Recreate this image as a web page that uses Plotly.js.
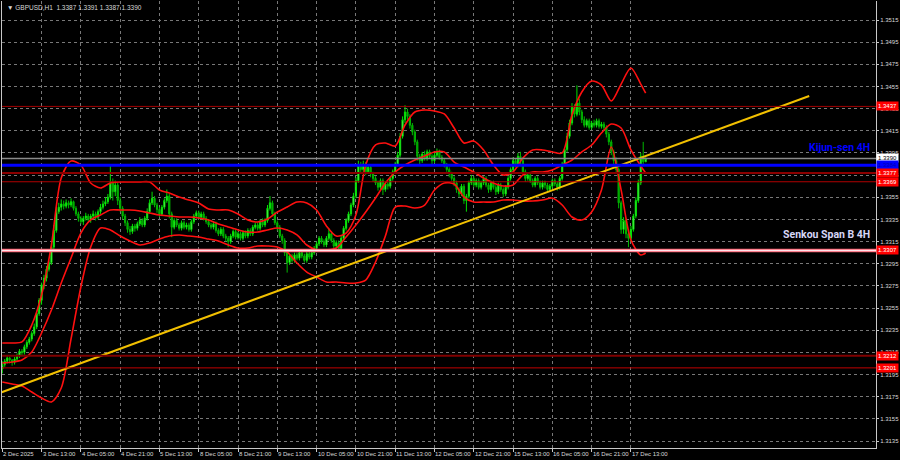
<!DOCTYPE html>
<html>
<head>
<meta charset="utf-8">
<script src="https://cdn.plot.ly/plotly-3.0.1.min.js"></script>
<style>html,body{margin:0;padding:0;background:#000;}#chart{width:900px;height:460px;}</style>
</head>
<body>
<div id="chart"></div>
<script>
// ---- data (GBPUSD H1, 2 Dec 21:00 .. 17 Dec 19:00) ----
const openP = [1.3200,1.3204,1.3207,1.3210,1.3208,1.3206,1.3209,1.3212,1.3216,1.3215,
1.3220,1.3224,1.3227,1.3232,1.3238,1.3250,1.3262,1.3276,1.3282,1.3290,
1.3296,1.3310,1.3325,1.3342,1.3346,1.3349,1.3347,1.3350,1.3348,1.3351,
1.3345,1.3340,1.3336,1.3333,1.3336,1.3338,1.3335,1.3338,1.3340,1.3337,
1.3342,1.3346,1.3349,1.3351,1.3355,1.3368,1.3360,1.3366,1.3352,1.3345,
1.3338,1.3332,1.3326,1.3324,1.3329,1.3327,1.3331,1.3334,1.3330,1.3336,
1.3342,1.3350,1.3354,1.3348,1.3344,1.3340,1.3346,1.3352,1.3356,1.3340,
1.3328,1.3334,1.3330,1.3327,1.3332,1.3328,1.3330,1.3326,1.3333,1.3338,
1.3341,1.3337,1.3340,1.3336,1.3333,1.3330,1.3328,1.3331,1.3325,1.3322,
1.3326,1.3320,1.3318,1.3315,1.3320,1.3324,1.3319,1.3322,1.3318,1.3323,
1.3320,1.3325,1.3322,1.3328,1.3330,1.3327,1.3333,1.3330,1.3334,1.3345,
1.3350,1.3340,1.3332,1.3328,1.3320,1.3316,1.3305,1.3296,1.3302,1.3298,
1.3303,1.3300,1.3305,1.3302,1.3298,1.3304,1.3301,1.3305,1.3309,1.3313,
1.3318,1.3315,1.3312,1.3318,1.3322,1.3316,1.3311,1.3314,1.3309,1.3318,
1.3327,1.3334,1.3340,1.3348,1.3356,1.3370,1.3384,1.3380,1.3385,1.3378,
1.3382,1.3376,1.3372,1.3368,1.3364,1.3370,1.3362,1.3367,1.3365,1.3372,
1.3378,1.3385,1.3393,1.3410,1.3425,1.3432,1.3428,1.3420,1.3414,1.3405,
1.3392,1.3388,1.3394,1.3390,1.3396,1.3392,1.3388,1.3393,1.3396,1.3391,
1.3388,1.3384,1.3380,1.3376,1.3372,1.3368,1.3362,1.3358,1.3365,1.3352,
1.3356,1.3368,1.3372,1.3366,1.3370,1.3364,1.3368,1.3372,1.3366,1.3362,
1.3368,1.3364,1.3360,1.3366,1.3362,1.3358,1.3364,1.3372,1.3380,1.3388,
1.3384,1.3392,1.3388,1.3378,1.3372,1.3375,1.3370,1.3366,1.3372,1.3368,
1.3364,1.3368,1.3366,1.3362,1.3365,1.3370,1.3367,1.3364,1.3372,1.3385,
1.3398,1.3410,1.3422,1.3436,1.3430,1.3440,1.3432,1.3425,1.3420,1.3424,
1.3418,1.3422,1.3420,1.3424,1.3419,1.3421,1.3418,1.3412,1.3405,1.3396,
1.3388,1.3380,1.3350,1.3326,1.3334,1.3322,1.3318,1.3326,1.3338,1.3352,
1.3368,1.3392,1.3387];

const closeP = [1.3204,1.3207,1.3210,1.3208,1.3206,1.3209,1.3212,1.3216,1.3215,1.3220,
1.3224,1.3227,1.3232,1.3238,1.3250,1.3262,1.3276,1.3282,1.3290,1.3296,
1.3310,1.3325,1.3342,1.3346,1.3349,1.3347,1.3350,1.3348,1.3351,1.3345,
1.3340,1.3336,1.3333,1.3336,1.3338,1.3335,1.3338,1.3340,1.3337,1.3342,
1.3346,1.3349,1.3351,1.3355,1.3368,1.3360,1.3366,1.3352,1.3345,1.3338,
1.3332,1.3326,1.3324,1.3329,1.3327,1.3331,1.3334,1.3330,1.3336,1.3342,
1.3350,1.3354,1.3348,1.3344,1.3340,1.3346,1.3352,1.3356,1.3340,1.3328,
1.3334,1.3330,1.3327,1.3332,1.3328,1.3330,1.3326,1.3333,1.3338,1.3341,
1.3337,1.3340,1.3336,1.3333,1.3330,1.3328,1.3331,1.3325,1.3322,1.3326,
1.3320,1.3318,1.3315,1.3320,1.3324,1.3319,1.3322,1.3318,1.3323,1.3320,
1.3325,1.3322,1.3328,1.3330,1.3327,1.3333,1.3330,1.3334,1.3345,1.3350,
1.3340,1.3332,1.3328,1.3320,1.3316,1.3305,1.3296,1.3302,1.3298,1.3303,
1.3300,1.3305,1.3302,1.3298,1.3304,1.3301,1.3305,1.3309,1.3313,1.3318,
1.3315,1.3312,1.3318,1.3322,1.3316,1.3311,1.3314,1.3309,1.3318,1.3327,
1.3334,1.3340,1.3348,1.3356,1.3370,1.3384,1.3380,1.3385,1.3378,1.3382,
1.3376,1.3372,1.3368,1.3364,1.3370,1.3362,1.3367,1.3365,1.3372,1.3378,
1.3385,1.3393,1.3410,1.3425,1.3432,1.3428,1.3420,1.3414,1.3405,1.3392,
1.3388,1.3394,1.3390,1.3396,1.3392,1.3388,1.3393,1.3396,1.3391,1.3388,
1.3384,1.3380,1.3376,1.3372,1.3368,1.3362,1.3358,1.3365,1.3352,1.3356,
1.3368,1.3372,1.3366,1.3370,1.3364,1.3368,1.3372,1.3366,1.3362,1.3368,
1.3364,1.3360,1.3366,1.3362,1.3358,1.3364,1.3372,1.3380,1.3388,1.3384,
1.3392,1.3388,1.3378,1.3372,1.3375,1.3370,1.3366,1.3372,1.3368,1.3364,
1.3368,1.3366,1.3362,1.3365,1.3370,1.3367,1.3364,1.3372,1.3385,1.3398,
1.3410,1.3422,1.3436,1.3430,1.3440,1.3432,1.3425,1.3420,1.3424,1.3418,
1.3422,1.3420,1.3424,1.3419,1.3421,1.3418,1.3412,1.3405,1.3396,1.3388,
1.3380,1.3350,1.3326,1.3334,1.3322,1.3318,1.3326,1.3338,1.3352,1.3368,
1.3392,1.3387,1.3390];

const highP = [1.3207,1.3209,1.3212,1.3211,1.3209,1.3211,1.3214,1.3218,1.3218,1.3222,
1.3226,1.3229,1.3234,1.3241,1.3252,1.3264,1.3278,1.3285,1.3293,1.3298,
1.3313,1.3330,1.3346,1.3350,1.3353,1.3352,1.3353,1.3352,1.3354,1.3352,
1.3347,1.3342,1.3338,1.3338,1.3341,1.3340,1.3340,1.3343,1.3342,1.3344,
1.3349,1.3352,1.3355,1.3358,1.3384,1.3372,1.3370,1.3368,1.3355,1.3347,
1.3340,1.3334,1.3329,1.3331,1.3331,1.3333,1.3337,1.3336,1.3338,1.3345,
1.3353,1.3360,1.3356,1.3350,1.3346,1.3348,1.3354,1.3362,1.3358,1.3342,
1.3336,1.3336,1.3332,1.3334,1.3334,1.3332,1.3332,1.3335,1.3340,1.3343,
1.3343,1.3342,1.3342,1.3338,1.3335,1.3332,1.3333,1.3333,1.3327,1.3328,
1.3328,1.3322,1.3320,1.3322,1.3326,1.3326,1.3324,1.3324,1.3325,1.3325,
1.3327,1.3327,1.3330,1.3332,1.3332,1.3335,1.3336,1.3336,1.3348,1.3356,
1.3352,1.3342,1.3334,1.3330,1.3322,1.3318,1.3307,1.3304,1.3304,1.3305,
1.3305,1.3307,1.3307,1.3304,1.3306,1.3306,1.3307,1.3311,1.3315,1.3320,
1.3320,1.3317,1.3320,1.3327,1.3324,1.3318,1.3316,1.3316,1.3320,1.3329,
1.3336,1.3342,1.3350,1.3359,1.3373,1.3388,1.3387,1.3388,1.3387,1.3384,
1.3384,1.3378,1.3374,1.3370,1.3372,1.3372,1.3369,1.3369,1.3374,1.3380,
1.3387,1.3396,1.3413,1.3428,1.3438,1.3435,1.3430,1.3422,1.3416,1.3407,
1.3394,1.3396,1.3397,1.3398,1.3398,1.3394,1.3395,1.3399,1.3398,1.3393,
1.3390,1.3386,1.3382,1.3378,1.3374,1.3370,1.3364,1.3367,1.3367,1.3358,
1.3370,1.3375,1.3374,1.3372,1.3372,1.3370,1.3374,1.3374,1.3368,1.3370,
1.3370,1.3366,1.3368,1.3368,1.3364,1.3366,1.3374,1.3382,1.3391,1.3390,
1.3395,1.3396,1.3390,1.3380,1.3377,1.3377,1.3372,1.3374,1.3374,1.3370,
1.3370,1.3370,1.3368,1.3367,1.3372,1.3372,1.3369,1.3374,1.3387,1.3400,
1.3413,1.3425,1.3440,1.3439,1.3456,1.3444,1.3434,1.3428,1.3426,1.3426,
1.3424,1.3425,1.3426,1.3426,1.3423,1.3423,1.3420,1.3414,1.3407,1.3398,
1.3391,1.3382,1.3352,1.3337,1.3336,1.3325,1.3329,1.3340,1.3355,1.3371,
1.3395,1.3405,1.3391];

const lowP = [1.3196,1.3202,1.3205,1.3205,1.3203,1.3204,1.3207,1.3210,1.3212,1.3213,
1.3218,1.3222,1.3225,1.3230,1.3236,1.3248,1.3258,1.3272,1.3279,1.3288,
1.3294,1.3308,1.3323,1.3340,1.3343,1.3344,1.3345,1.3345,1.3346,1.3343,
1.3338,1.3333,1.3331,1.3330,1.3334,1.3333,1.3332,1.3336,1.3334,1.3335,
1.3340,1.3344,1.3347,1.3349,1.3353,1.3352,1.3356,1.3348,1.3342,1.3335,
1.3329,1.3323,1.3321,1.3322,1.3324,1.3325,1.3329,1.3328,1.3328,1.3334,
1.3340,1.3348,1.3346,1.3341,1.3337,1.3338,1.3344,1.3350,1.3336,1.3319,
1.3326,1.3328,1.3325,1.3325,1.3326,1.3326,1.3324,1.3324,1.3331,1.3336,
1.3335,1.3335,1.3334,1.3331,1.3328,1.3326,1.3326,1.3323,1.3320,1.3320,
1.3318,1.3315,1.3310,1.3313,1.3318,1.3317,1.3317,1.3316,1.3316,1.3318,
1.3318,1.3320,1.3320,1.3326,1.3325,1.3325,1.3328,1.3328,1.3332,1.3343,
1.3338,1.3330,1.3325,1.3318,1.3313,1.3302,1.3287,1.3294,1.3296,1.3296,
1.3298,1.3298,1.3300,1.3296,1.3296,1.3299,1.3299,1.3303,1.3307,1.3311,
1.3313,1.3310,1.3310,1.3316,1.3314,1.3309,1.3309,1.3306,1.3307,1.3316,
1.3325,1.3332,1.3338,1.3346,1.3354,1.3368,1.3377,1.3378,1.3375,1.3376,
1.3373,1.3369,1.3366,1.3361,1.3362,1.3357,1.3360,1.3362,1.3363,1.3370,
1.3376,1.3383,1.3391,1.3408,1.3422,1.3425,1.3417,1.3411,1.3402,1.3388,
1.3385,1.3386,1.3388,1.3388,1.3390,1.3385,1.3386,1.3391,1.3389,1.3386,
1.3382,1.3378,1.3373,1.3370,1.3365,1.3359,1.3355,1.3356,1.3349,1.3342,
1.3354,1.3366,1.3364,1.3364,1.3362,1.3362,1.3366,1.3364,1.3359,1.3360,
1.3362,1.3357,1.3358,1.3360,1.3355,1.3356,1.3362,1.3370,1.3378,1.3382,
1.3382,1.3385,1.3376,1.3369,1.3370,1.3368,1.3364,1.3364,1.3366,1.3362,
1.3362,1.3363,1.3360,1.3360,1.3363,1.3365,1.3361,1.3362,1.3370,1.3383,
1.3396,1.3408,1.3420,1.3427,1.3428,1.3429,1.3422,1.3418,1.3418,1.3416,
1.3416,1.3418,1.3418,1.3417,1.3417,1.3415,1.3409,1.3402,1.3393,1.3384,
1.3376,1.3345,1.3322,1.3322,1.3318,1.3310,1.3315,1.3324,1.3336,1.3350,
1.3366,1.3385,1.3387];

// Bollinger bands (H1), read every 4 bars
const bandIdx = [0,4,8,12,16,20,24,28,32,36,40,44,48,52,56,60,64,68,72,76,80,84,88,92,96,100,104,108,112,116,120,124,128,132,136,140,144,148,152,156,160,164,168,172,176,180,184,188,192,196,200,204,208,212,216,220,224,228,232,236,240,244,248,252,256,260,262];
const bandUpper = [1.32235,1.32235,1.32244,1.32397,1.32668,1.33119,1.33724,1.33877,1.33841,1.33679,1.33634,1.33679,1.33688,1.33688,1.33688,1.33688,1.33616,1.33588,1.33552,1.33525,1.33498,1.33444,1.33435,1.33435,1.33399,1.33345,1.33327,1.33354,1.33417,1.33462,1.33507,1.33498,1.33435,1.33291,1.33200,1.33227,1.33390,1.33841,1.34022,1.34040,1.34013,1.34202,1.34320,1.34338,1.34329,1.34302,1.34175,1.34040,1.34058,1.33977,1.33841,1.33751,1.33778,1.33904,1.33977,1.33977,1.33959,1.33950,1.34293,1.34500,1.34599,1.34563,1.34419,1.34572,1.34717,1.34572,1.34491];
const bandMiddle = [1.32054,1.32063,1.32081,1.32153,1.32325,1.32532,1.32776,1.33002,1.33227,1.33345,1.33390,1.33435,1.33435,1.33435,1.33426,1.33408,1.33390,1.33381,1.33372,1.33372,1.33363,1.33345,1.33309,1.33282,1.33255,1.33236,1.33236,1.33255,1.33273,1.33255,1.33210,1.33119,1.33074,1.33074,1.33092,1.33191,1.33300,1.33417,1.33543,1.33679,1.33778,1.33841,1.33886,1.33922,1.33959,1.33959,1.33868,1.33823,1.33778,1.33724,1.33679,1.33652,1.33661,1.33751,1.33778,1.33778,1.33796,1.33841,1.33886,1.33959,1.34022,1.34130,1.34211,1.34175,1.33977,1.33832,1.33769];
const bandLower = [1.31883,1.31865,1.31846,1.31792,1.31738,1.31702,1.31828,1.32271,1.32740,1.33101,1.33273,1.33255,1.33200,1.33155,1.33119,1.33137,1.33173,1.33200,1.33209,1.33200,1.33191,1.33173,1.33155,1.33119,1.33092,1.33092,1.33110,1.33110,1.33101,1.33056,1.32957,1.32875,1.32830,1.32785,1.32785,1.32776,1.32776,1.32803,1.32966,1.33200,1.33462,1.33471,1.33453,1.33480,1.33616,1.33679,1.33670,1.33552,1.33507,1.33507,1.33507,1.33525,1.33525,1.33516,1.33516,1.33525,1.33543,1.33480,1.33372,1.33345,1.33417,1.33616,1.34004,1.33616,1.33164,1.33029,1.33047];

// trend line (two anchor points: bar index, price)
const trendIdx = [-0.8, 328.6];
const trendPrice = [1.31786, 1.34464];

// horizontal levels
const levelPrices = [1.3437, 1.3390, 1.3384, 1.3377, 1.3369, 1.3307, 1.3212, 1.3201];
const levelLabels = ['1.3437','1.3390','1.3384','1.3377','1.3369','1.3307','1.3212','1.3201'];

// axes
const xTickIdx = [0,16,32,48,64,80,96,112,128,144,160,176,192,208,224,240,256];
const xTickText = ['2 Dec 2025','3 Dec 13:00','4 Dec 05:00','4 Dec 21:00','5 Dec 13:00','8 Dec 05:00','8 Dec 21:00','9 Dec 13:00','10 Dec 05:00','10 Dec 21:00','11 Dec 13:00','12 Dec 05:00','12 Dec 21:00','15 Dec 13:00','16 Dec 05:00','16 Dec 21:00','17 Dec 13:00'];
const yTickVals = [1.3135,1.3155,1.3175,1.3195,1.3215,1.3235,1.3255,1.3275,1.3295,1.3315,1.3335,1.3355,1.3375,1.3395,1.3415,1.3435,1.3455,1.3475,1.3495,1.3515];
const yTickText = ['1.3135','1.3155','1.3175','1.3195','1.3215','1.3235','1.3255','1.3275','1.3295','1.3315','1.3335','1.3355','1.3375','1.3395','1.3415','1.3435','1.3455','1.3475','1.3495','1.3515'];

// ---- styles ----
const levelStyle = [
  {color:'#a00000', width:1, box:'#ff0000', txt:'#ffffff'},
  {color:'#8a8a8a', width:1.5, box:'#ffffff', txt:'#000000'},
  {color:'#0000ff', width:3, box:'#0000ff', txt:'#0000b0'},
  {color:'#8b0000', width:2, box:'#ff0000', txt:'#ffffff'},
  {color:'#b00000', width:1, box:'#ff0000', txt:'#ffffff'},
  {color:'#ff6070', width:3.5, box:'#ff0000', txt:'#ffffff'},
  {color:'#800000', width:2, box:'#ff0000', txt:'#ffffff'},
  {color:'#c00000', width:1, box:'#ff0000', txt:'#ffffff'}
];
const FONT = 'Liberation Sans, Arial, DejaVu Sans, sans-serif';
const NARROW = 'Liberation Sans Narrow, Arial Narrow, Roboto, Liberation Sans, sans-serif';

const barIdx = closeP.map((_, i) => i);

const traces = [
  {
    type:'candlestick', x:barIdx, open:openP, high:highP, low:lowP, close:closeP,
    increasing:{line:{color:'#00e000', width:1}, fillcolor:'#a0ffa0'},
    decreasing:{line:{color:'#00b800', width:1}, fillcolor:'#009a00'},
    whiskerwidth:0, hoverinfo:'skip', showlegend:false
  },
  {type:'scatter', mode:'lines', x:bandIdx, y:bandUpper, line:{color:'#ff1010', width:1.6, shape:'spline', smoothing:0.8}, hoverinfo:'skip'},
  {type:'scatter', mode:'lines', x:bandIdx, y:bandMiddle, line:{color:'#ff1010', width:1.6, shape:'spline', smoothing:0.8}, hoverinfo:'skip'},
  {type:'scatter', mode:'lines', x:bandIdx, y:bandLower, line:{color:'#ff1010', width:1.6, shape:'spline', smoothing:0.8}, hoverinfo:'skip'},
  {type:'scatter', mode:'lines', x:trendIdx, y:trendPrice, line:{color:'#f2c000', width:2}, hoverinfo:'skip'}
];

const shapes = [];
levelPrices.forEach((p, k) => {
  shapes.push({type:'line', xref:'paper', x0:0, x1:1, yref:'y', y0:p, y1:p,
    line:{color:levelStyle[k].color, width:levelStyle[k].width}, layer:'above'});
  if (k === 5) {
    shapes.push({type:'line', xref:'paper', x0:0, x1:1, yref:'y', y0:p, y1:p,
      line:{color:'#ffe4ea', width:1.5}, layer:'above'});
  }
});

const annotations = [];
// title
annotations.push({xref:'paper', yref:'paper', x:0, y:1, xanchor:'left', yanchor:'top', xshift:3, yshift:-1,
  text:'▼ GBPUSD,H1  1.3387 1.3391 1.3387 1.3390', showarrow:false,
  font:{family:FONT, size:6.5, color:'#d8d8d8'}});
// x labels
xTickIdx.forEach((v, k) => {
  annotations.push({xref:'x', yref:'paper', x:v, y:0, xanchor:'left', yanchor:'top', yshift:-1, xshift:-1,
    text:xTickText[k], showarrow:false, font:{family:FONT, size:6, color:'#d8d8d8'}});
});
// level boxes
levelPrices.forEach((p, k) => {
  annotations.push({xref:'paper', yref:'y', x:1, y:p, xanchor:'left', yanchor:'middle', xshift:0,
    text:levelLabels[k], showarrow:false, bgcolor:levelStyle[k].box, borderpad:1,
    font:{family:FONT, size:6, color:levelStyle[k].txt}});
});
// indicator names
annotations.push({xref:'paper', yref:'y', x:0.9954, y:1.33995, xanchor:'right', yanchor:'middle',
  text:'<b>Kijun-sen 4H</b>', showarrow:false, font:{family:NARROW, size:10.5, color:'#0000ff'}});
annotations.push({xref:'paper', yref:'y', x:0.9954, y:1.33218, xanchor:'right', yanchor:'middle',
  text:'<b>Senkou Span B 4H</b>', showarrow:false, font:{family:NARROW, size:10.5, color:'#d6d6f6'}});

const layout = {
  width:900, height:460,
  paper_bgcolor:'#000000', plot_bgcolor:'#000000',
  margin:{l:2, r:24, t:1, b:12, pad:0},
  showlegend:false,
  xaxis:{
    range:[-0.12, 355.8], tickvals:xTickIdx, showticklabels:false,
    ticks:'outside', ticklen:3, tickcolor:'#c8c8c8',
    showgrid:true, gridcolor:'#787878', griddash:'3px,3px', gridwidth:1,
    showline:true, linecolor:'#c8c8c8', linewidth:1, zeroline:false,
    rangeslider:{visible:false}, fixedrange:true
  },
  yaxis:{
    range:[1.312868, 1.353215], side:'right',
    tickvals:yTickVals, ticktext:yTickText,
    tickfont:{family:FONT, size:6, color:'#d8d8d8'},
    ticks:'outside', ticklen:2, tickcolor:'#c8c8c8',
    showgrid:true, gridcolor:'#787878', griddash:'3px,3px', gridwidth:1,
    showline:true, mirror:true, linecolor:'#c8c8c8', linewidth:1, zeroline:false
  },
  shapes:shapes,
  annotations:annotations
};

Plotly.newPlot('chart', traces, layout, {staticPlot:true, displayModeBar:false});
</script>
</body>
</html>
